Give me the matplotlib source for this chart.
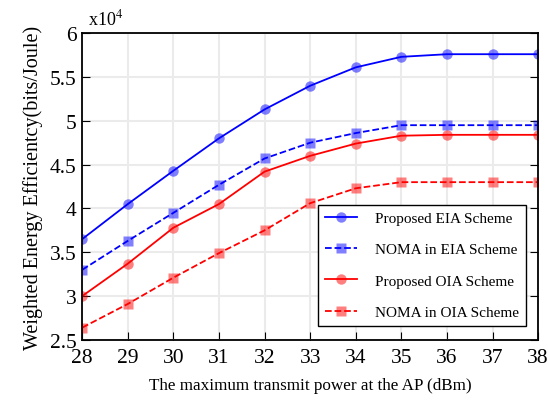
import numpy as np
import matplotlib
matplotlib.use("Agg")
import matplotlib.pyplot as plt

plt.rcParams["font.family"] = ["Liberation Serif", "DejaVu Serif"]
plt.rcParams["mathtext.fontset"] = "stix"

power = [28, 29, 30, 31, 32, 33, 34, 35, 36, 37, 38]
eia_prop = [3.65, 4.05, 4.43, 4.80, 5.13, 5.40, 5.61, 5.73, 5.76, 5.76, 5.76]
eia_noma = [3.30, 3.63, 3.95, 4.27, 4.57, 4.75, 4.86, 4.95, 4.95, 4.95, 4.95]
oia_prop = [3.00, 3.37, 3.78, 4.05, 4.42, 4.60, 4.74, 4.83, 4.84, 4.84, 4.84]
oia_noma = [2.64, 2.91, 3.21, 3.49, 3.75, 4.06, 4.23, 4.30, 4.30, 4.30, 4.30]


def main():
    fig = plt.figure(figsize=(5.48, 4.02), dpi=100)
    ax = fig.add_axes([0.150, 0.152, 0.832, 0.763])
    series = [
        (eia_prop, "blue", "-", "o", "Proposed EIA Scheme"),
        (eia_noma, "blue", "--", "s", "NOMA in EIA Scheme"),
        (oia_prop, "red", "-", "o", "Proposed OIA Scheme"),
        (oia_noma, "red", "--", "s", "NOMA in OIA Scheme"),
    ]
    for vals, c, ls, mk, lab in series:
        ax.plot(power, vals, color=c, ls=ls, lw=1.3, marker=mk, ms=7.5,
                mfc=matplotlib.colors.to_rgba(c, 0.5),
                mec=matplotlib.colors.to_rgba(c, 0.0), label=lab)

    ax.set_xlim(28, 38)
    ax.set_ylim(2.5, 6)
    ax.set_xticks(power)
    ax.set_yticks(np.arange(2.5, 6.01, 0.5))
    ax.set_yticklabels(["2.5", "3", "3.5", "4", "4.5", "5", "5.5", "6"])
    ax.grid(True, color="#ebebeb", lw=1.5)
    ax.set_axisbelow(True)
    ax.tick_params(direction="in", length=6, labelsize=15.5, right=True)
    ax.tick_params(axis="x", pad=6)
    ax.tick_params(axis="y", pad=4)
    for s in ax.spines.values():
        s.set_linewidth(1.3)
    ax.set_xlabel("The maximum transmit power at the AP (dBm)", fontsize=12.3,
                  labelpad=7)
    ax.set_ylabel("Weighted Energy Efficientcy(bits/Joule)", fontsize=14.5,
                  labelpad=5)
    ax.text(0.012, 1.015, r"x10$^4$", transform=ax.transAxes, fontsize=13,
            ha="left", va="bottom")

    leg = ax.legend(loc="lower right", bbox_to_anchor=(0.974, 0.046),
                    borderaxespad=0, fontsize=11, fancybox=False,
                    framealpha=1, edgecolor="black", labelspacing=1.15,
                    handlelength=2.1, handletextpad=1.2, borderpad=0.45)
    leg.get_frame().set_linewidth(1.0)

    fig.savefig("out.png", dpi=100)


if __name__ == "__main__":
    main()
